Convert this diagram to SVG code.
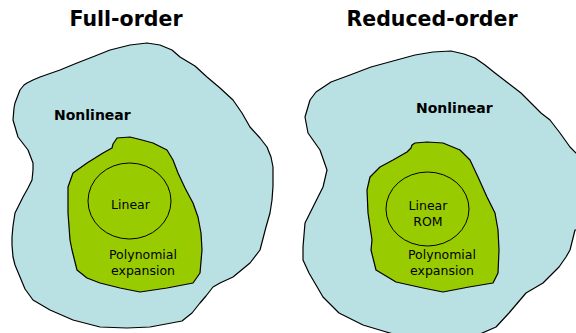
<svg xmlns="http://www.w3.org/2000/svg" width="576" height="333" viewBox="0 0 576 333">
<style>
.outer{fill:#b9e0e3;stroke:#000;stroke-width:1.2;stroke-linejoin:round}
.inner{fill:#99cc00;stroke:#000;stroke-width:1.2;stroke-linejoin:round}
.circ{fill:none;stroke:#000;stroke-width:1}
.title{font-family:"DejaVu Sans",Verdana,sans-serif;font-weight:bold;font-size:20.5px;fill:#000;text-anchor:middle}
.nl{font-family:"DejaVu Sans",Verdana,sans-serif;font-weight:bold;font-size:14px;fill:#000}
.lbl{font-family:"DejaVu Sans",Verdana,sans-serif;font-size:12.5px;fill:#000;text-anchor:middle}
</style>
<rect width="576" height="333" fill="#fff"/>
<g id="full-order">
<text class="title" x="126" y="26">Full-order</text>
<g id="full-nonlinear">
<path class="outer" d="M27,83 L33,80 L40,77 L60,70 L77,63 L95,56 L110,50 L130,45 L147,43 L160,45 L172,50 L180,57 L195,66 L207,77 L220,88 L233,100 L242,113 L250,127 L260,138 L267,147 L271,157 L273,167 L273,186 L272,200 L270,213 L266,227 L260,250 L250,263 L233,277 L220,283 L213,287 L206,296 L200,303 L192,313 L182,321 L150,327 L127,328 L100,327 L73,320 L50,310 L33,300 L25,289 L20,277 L15,265 L13,257 L12,245 L12,237 L13,226 L15,213 L19,205 L23,197 L28,188 L32,180 L33,170 L33,163 L28,150 L18,137 L13,120 L14,108 L15,103 L20,90 L24,85 Z"/>
<text class="nl" x="54" y="120">Nonlinear</text>
</g>
<g id="full-poly">
<path class="inner" d="M117,138 L130,137 L142,140 L153,143 L167,150 L173,160 L178,173 L185,188 L193,203 L198,217 L201,233 L202,250 L200,273 L193,283 L167,288 L140,292 L120,288 L100,283 L87,278 L77,270 L72,250 L70,240 L68,213 L68,187 L73,173 L87,163 L103,153 L112,148 L113,144 Z"/>
<text class="lbl" x="143" y="259">Polynomial</text>
<text class="lbl" x="143" y="275">expansion</text>
</g>
<g id="full-linear">
<ellipse class="circ" cx="129.5" cy="201" rx="41.5" ry="38"/>
<text class="lbl" x="130.5" y="209">Linear</text>
</g>
</g>
<g id="reduced-order">
<text class="title" x="432" y="26">Reduced-order</text>
<g id="reduced-nonlinear">
<path class="outer" d="M322,88 L331,82 L350,75 L371,67 L393,61 L415,55 L433,52 L451,51 L464,54 L475,58 L485,65 L495,73 L508,83 L521,93 L531,103 L541,113 L550,120 L560,133 L570,147 L576,153 L580,153 L580,230 L575,230 L570,250 L566,257 L559,267 L543,283 L526,293 L509,313 L496,327 L480,334 L400,336 L383,331 L363,325 L339,313 L323,297 L309,273 L303,260 L303,247 L305,223 L309,215 L313,207 L318,197 L323,187 L327,170 L320,150 L308,133 L305,117 L310,100 L316,92 Z"/>
<text class="nl" x="416" y="113">Nonlinear</text>
</g>
<g id="reduced-poly">
<path class="inner" d="M415,143 L427,142 L443,143 L460,150 L470,160 L478,177 L487,197 L495,213 L498,230 L499,250 L498,273 L493,283 L469,287 L443,292 L423,288 L396,282 L376,270 L371,250 L372,240 L368,213 L367,190 L370,177 L380,167 L393,160 L407,152 L411,148 L412,145 Z"/>
<text class="lbl" x="442" y="259">Polynomial</text>
<text class="lbl" x="442" y="275">expansion</text>
</g>
<g id="reduced-linear">
<ellipse class="circ" cx="427.5" cy="209" rx="41.5" ry="37"/>
<text class="lbl" x="428" y="210">Linear</text>
<text class="lbl" x="428" y="226">ROM</text>
</g>
</g>
<g id="connectors"/>
</svg>
